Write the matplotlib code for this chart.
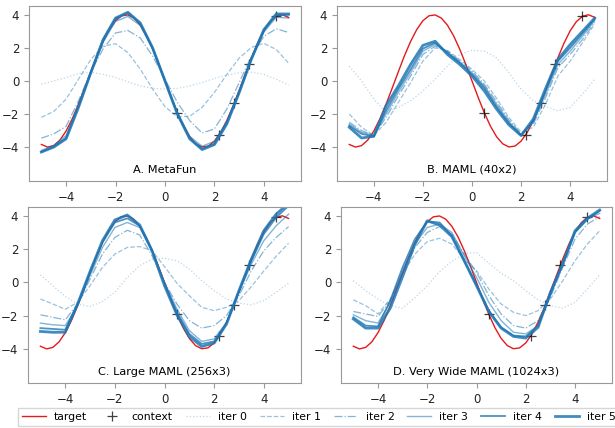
import matplotlib
matplotlib.use("Agg")
import matplotlib.pyplot as plt

# x grid of the iteration curves and the finer one of the target
xs = [-5, -4.5, -4, -3.5, -3, -2.5, -2, -1.5, -1, -0.5, 0,
      0.5, 1, 1.5, 2, 2.5, 3, 3.5, 4, 4.5, 5]
target_x = [-5 + 0.25 * i for i in range(41)]
target_y = [-3.84, -4.00, -3.91, -3.58, -3.03, -2.29, -1.40, -0.43, 0.56, 1.53,
            2.39, 3.11, 3.64, 3.94, 3.99, 3.80, 3.37, 2.73, 1.92, 0.99,
            0.00, -0.99, -1.92, -2.73, -3.37, -3.80, -3.99, -3.94, -3.64, -3.11,
            -2.39, -1.53, -0.56, 0.43, 1.40, 2.29, 3.03, 3.58, 3.91, 4.00, 3.84]

context_x = [0.5, 2.2, 2.8, 3.4, 4.5]
context_y = [-1.92, -3.24, -1.34, 1.02, 3.91]

titles = ["A. MetaFun", "B. MAML (40x2)", "C. Large MAML (256x3)",
          "D. Very Wide MAML (1024x3)"]

metafun = [
    [-0.2, 0.0, 0.2, 0.45, 0.52, 0.4, 0.2, -0.05, -0.3, -0.45, -0.5,
     -0.45, -0.3, -0.1, 0.15, 0.35, 0.5, 0.52, 0.4, 0.1, -0.25],
    [-2.2, -1.85, -1.1, 0.1, 1.3, 2.1, 2.25, 1.71, 0.71, -0.49, -1.56,
     -2.17, -2.13, -1.6, -0.69, 0.39, 1.38, 2.03, 2.27, 1.9, 1.07],
    [-3.46, -3.2, -2.75, -1.2, 0.55, 1.95, 2.9, 3.05, 2.6, 1.5, 0.1,
     -1.3, -2.4, -3.15, -2.9, -1.7, -0.1, 1.5, 2.7, 3.15, 2.93],
    [-4.2, -3.9, -3.3, -1.5, 0.45, 2.35, 3.6, 3.9, 3.35, 1.95, 0.05,
     -1.9, -3.35, -3.95, -3.65, -2.45, -0.65, 1.3, 2.95, 3.85, 3.8],
    [-4.28, -3.98, -3.45, -1.55, 0.5, 2.5, 3.78, 4.1, 3.48, 1.98, 0.0,
     -1.98, -3.47, -4.1, -3.8, -2.55, -0.7, 1.35, 3.08, 4.0, 4.0],
    [-4.3, -4.0, -3.5, -1.6, 0.5, 2.5, 3.8, 4.15, 3.5, 2.0, 0.0,
     -2.0, -3.5, -4.15, -3.85, -2.6, -0.7, 1.35, 3.1, 4.05, 4.05],
]

maml_small = [
    [0.9, 0.0, -1.1, -1.9, -1.6, -1.2, -0.6, 0.1, 0.9, 1.6, 1.85,
     1.8, 1.4, 0.5, -0.5, -1.2, -1.55, -1.8, -1.6, -0.8, 0.1],
    [-2.0, -2.8, -3.3, -2.5, -1.3, -0.1, 1.2, 2.0, 1.85, 1.3, 0.7,
     0.0, -1.05, -2.2, -3.1, -2.8, -1.4, 0.3, 1.2, 2.3, 3.45],
    [-2.5, -3.0, -3.3, -2.2, -0.9, 0.3, 1.6, 2.1, 1.8, 1.2, 0.6,
     -0.2, -1.25, -2.35, -3.2, -2.6, -1.0, 0.8, 1.6, 2.5, 3.55],
    [-2.6, -3.1, -3.3, -2.0, -0.7, 0.5, 1.8, 2.2, 1.75, 1.15, 0.5,
     -0.3, -1.4, -2.45, -3.25, -2.5, -0.8, 1.0, 1.8, 2.7, 3.65],
    [-2.7, -3.2, -3.35, -1.8, -0.5, 0.7, 1.95, 2.3, 1.7, 1.1, 0.4,
     -0.4, -1.55, -2.55, -3.3, -2.4, -0.6, 1.2, 2.0, 2.85, 3.75],
    [-2.8, -3.45, -3.35, -1.5, -0.3, 1.0, 2.15, 2.4, 1.6, 1.0, 0.3,
     -0.6, -1.7, -2.65, -3.3, -2.3, -0.45, 1.3, 2.2, 3.0, 3.8],
]

maml_large = [
    [0.45, -0.2, -0.85, -1.3, -1.45, -1.15, -0.6, 0.3, 1.0, 1.4, 1.45,
     1.3, 0.8, 0.1, -0.5, -1.0, -1.25, -1.35, -1.1, -0.6, -0.05],
    [-1.0, -1.3, -1.62, -1.2, -0.2, 0.9, 1.7, 2.1, 2.15, 1.9, 0.95,
     -0.05, -0.8, -1.5, -1.7, -1.5, -1.1, -0.25, 0.68, 1.57, 2.35],
    [-1.95, -2.1, -2.25, -1.3, 0.2, 1.7, 2.7, 3.13, 2.85, 1.6, 0.0,
     -1.3, -2.3, -2.75, -2.6, -2.0, -0.8, 0.7, 1.9, 2.7, 3.35],
    [-2.45, -2.55, -2.6, -1.4, 0.4, 2.1, 3.3, 3.6, 3.3, 1.9, 0.0,
     -1.6, -2.9, -3.55, -3.4, -2.4, -0.6, 1.1, 2.5, 3.4, 4.1],
    [-2.75, -2.8, -2.85, -1.3, 0.6, 2.4, 3.6, 3.85, 3.4, 1.9, -0.1,
     -1.8, -3.1, -3.7, -3.55, -2.45, -0.55, 1.3, 2.9, 3.9, 4.6],
    [-2.95, -3.0, -3.0, -1.3, 0.65, 2.5, 3.75, 4.05, 3.45, 1.9, -0.2,
     -1.95, -3.25, -3.85, -3.65, -2.5, -0.5, 1.4, 3.1, 4.1, 4.75],
]

maml_wide = [
    [0.1, -0.5, -1.0, -1.4, -1.55, -0.92, -0.2, 0.64, 1.27, 1.72, 1.8,
     1.15, 0.55, 0.1, -0.5, -1.05, -1.4, -1.55, -1.2, -0.4, 0.45],
    [-1.05, -1.4, -1.9, -1.0, 0.5, 1.7, 2.45, 2.65, 2.3, 1.4, 0.7,
     -0.4, -1.3, -1.8, -2.0, -1.7, -1.0, 0.1, 1.3, 2.3, 3.1],
    [-1.75, -1.9, -2.05, -1.1, 0.6, 2.1, 3.0, 3.35, 2.9, 1.7, 0.6,
     -0.8, -1.9, -2.6, -2.75, -2.3, -0.9, 0.9, 2.6, 3.5, 3.95],
    [-1.95, -2.3, -2.45, -1.2, 0.7, 2.3, 3.3, 3.5, 3.0, 1.6, 0.3,
     -1.2, -2.3, -3.0, -3.1, -2.6, -0.8, 1.2, 3.0, 3.8, 4.15],
    [-2.1, -2.6, -2.65, -1.1, 0.9, 2.6, 3.65, 3.6, 2.8, 1.3, -0.15,
     -1.7, -2.7, -3.2, -3.25, -2.6, -0.7, 1.1, 3.0, 3.8, 4.3],
    [-2.2, -2.75, -2.75, -1.55, 0.35, 2.3, 3.7, 3.45, 2.75, 1.3, -0.2,
     -1.75, -2.75, -3.25, -3.35, -2.7, -0.6, 1.1, 3.1, 3.85, 4.35],
]

panels = [metafun, maml_small, maml_large, maml_wide]

# iteration styles
styles = [":", "--", "-.", "-", "-", "-"]
alphas = [0.3, 0.45, 0.55, 0.55, 0.8, 0.85]
widths = [0.9, 0.9, 0.9, 1.0, 1.3, 2.0]

plt.rcParams["font.family"] = "DejaVu Sans"
plt.rcParams["font.size"] = 8

fig = plt.figure(figsize=(6.15, 4.28), dpi=100)
W, H = 615.0, 428.0
boxes = [(29, 181, 272, 175), (337, 181, 270, 175),
         (28, 383, 273, 176), (341, 383, 271, 176)]

for k, (lx, by, w, h) in enumerate(boxes):
    ax = fig.add_axes([lx / W, 1 - by / H, w / W, h / H])
    ax.plot(target_x, target_y, color="#e41a1c", lw=1.0, label="target")
    ax.plot(context_x, context_y, "+", color="black", ms=6.5, mew=0.9,
            alpha=0.75, label="context")
    for i, ys in enumerate(panels[k]):
        ax.plot(xs, ys, color="#1f77b4", ls=styles[i], lw=widths[i],
                alpha=alphas[i], label="iter %d" % i)
    ax.set_xlim(-5.5, 5.5)
    ax.set_ylim(-6.05, 4.53)
    ax.set_xticks([-4, -2, 0, 2, 4])
    ax.set_yticks([-4, -2, 0, 2, 4])
    for s in ax.spines.values():
        s.set_color("#999999")
    ax.tick_params(colors="#999999", labelcolor="#222222", length=3.5,
                   labelsize=8.5)
    ax.text(0.5, 0.063, titles[k], transform=ax.transAxes,
            ha="center", va="center", fontsize=8.2)

handles, labels = ax.get_legend_handles_labels()
leg = fig.legend(handles, labels, loc="upper left", ncol=8,
                 bbox_to_anchor=(17.5 / W, 1 - 407.5 / H),
                 fontsize=7.8, handlelength=2.2, handletextpad=0.75,
                 columnspacing=1.2, borderaxespad=0, frameon=True,
                 fancybox=False)
leg.get_frame().set_edgecolor("#cccccc")

fig.savefig("out.png", dpi=100)
